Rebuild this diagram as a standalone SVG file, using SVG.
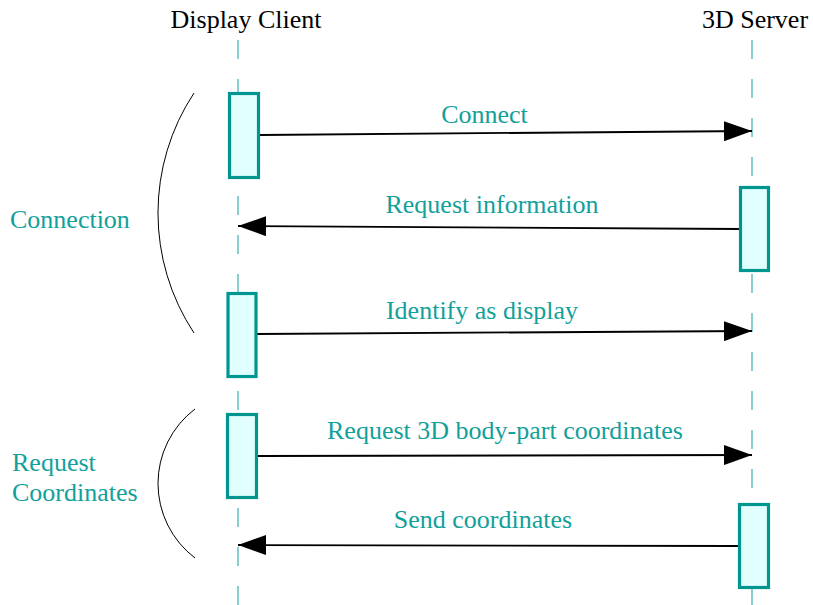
<svg xmlns="http://www.w3.org/2000/svg" width="813" height="605" viewBox="0 0 813 605">
<style>
text{font-family:'Liberation Serif','Tinos','Times New Roman','DejaVu Serif',serif;font-size:26px}
.hdr{fill:#000}
.lbl{fill:#12a09a}
.life{stroke:#6cc4c4;stroke-width:1.6;stroke-dasharray:19 20;fill:none}
.act{fill:#e2ffff;stroke:#009690;stroke-width:3.2}
.msg{stroke:#000;stroke-width:1.8;fill:none}
.brace{stroke:#000;stroke-width:1;fill:none}
</style>
<defs>
<marker id="ah" viewBox="0 0 28 20" refX="28" refY="10" markerWidth="28" markerHeight="20" markerUnits="userSpaceOnUse" orient="auto">
<path d="M0,0 L28,10 L0,20 Z" fill="#000"/>
</marker>
</defs>
<g id="lifelines">
<g id="client"><text class="hdr" x="246" y="28" text-anchor="middle">Display Client</text><line class="life" x1="238" y1="40" x2="238" y2="605"/></g>
<g id="server"><text class="hdr" x="755" y="28" text-anchor="middle">3D Server</text><line class="life" x1="752" y1="40" x2="752" y2="605"/></g>
</g>
<g id="brackets">
<g id="connection"><path class="brace" d="M194,93 A218,218 0 0 0 194,333"/><text class="lbl" x="10" y="228">Connection</text></g>
<g id="request-coordinates"><path class="brace" d="M195,409 A93.5,93.5 0 0 0 195,558"/><text class="lbl" x="12" y="471">Request</text><text class="lbl" x="12" y="501">Coordinates</text></g>
</g>
<g id="connectors">
<line class="msg" x1="260" y1="135" x2="752" y2="131" marker-end="url(#ah)"/>
<line class="msg" x1="740" y1="229" x2="238" y2="226" marker-end="url(#ah)"/>
<line class="msg" x1="257" y1="334" x2="752" y2="331" marker-end="url(#ah)"/>
<line class="msg" x1="258" y1="456" x2="752" y2="455" marker-end="url(#ah)"/>
<line class="msg" x1="739" y1="546" x2="238" y2="545" marker-end="url(#ah)"/>
</g>
<g id="labels">
<text class="lbl" x="484.5" y="123" text-anchor="middle">Connect</text>
<text class="lbl" x="492" y="213" text-anchor="middle">Request information</text>
<text class="lbl" x="482" y="319" text-anchor="middle">Identify as display</text>
<text class="lbl" x="505" y="439" text-anchor="middle">Request 3D body-part coordinates</text>
<text class="lbl" x="483" y="528" text-anchor="middle">Send coordinates</text>
</g>
<g id="act1"><rect class="act" x="229.5" y="93.5" width="29" height="84"/></g>
<g id="act2"><rect class="act" x="740.5" y="187.5" width="28" height="83"/></g>
<g id="act3"><rect class="act" x="228" y="293.5" width="28" height="83"/></g>
<g id="act4"><rect class="act" x="227.5" y="414.5" width="29" height="83"/></g>
<g id="act5"><rect class="act" x="739.5" y="504.5" width="29" height="83"/></g>
</svg>
